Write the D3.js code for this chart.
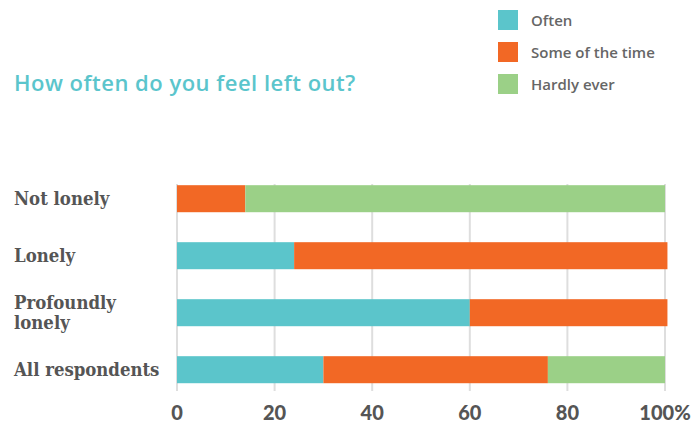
<!DOCTYPE html>
<html><head><meta charset="utf-8">
<script src="https://cdn.jsdelivr.net/npm/d3@7"></script>
<style>body{margin:0;background:#fff}svg{display:block}</style>
</head><body>
<svg id="c" width="693" height="428"></svg>
<script>
const categories = ["Not lonely", "Lonely", "Profoundly lonely", "All respondents"];
const categoryLines = [["Not lonely"], ["Lonely"], ["Profoundly", "lonely"], ["All respondents"]];
const seriesNames = ["Often", "Some of the time", "Hardly ever"];
const often = [0, 24, 60, 30];
const someOfTheTime = [14, 76.5, 40.5, 46];
const hardlyEver = [86, 0, 0, 24];
const tickValues = [0, 20, 40, 60, 80, 100];
const tickLabels = ["0", "20", "40", "60", "80", "100%"];
const colors = ["#5bc5cb", "#f26825", "#9bd087"];
const title = "How often do you feel left out?";

const svg = d3.select("#c");
const x = d3.scaleLinear().domain([0, 100]).range([177, 665]);
const y = d3.scaleBand().domain(categories).range([170.2, 170.2 + 4 * 57]).paddingInner(0.526).paddingOuter(0.263);
const color = d3.scaleOrdinal().domain(seriesNames).range(colors);

// gridlines
svg.append("g").selectAll("line").data(tickValues).join("line")
  .attr("x1", d => x(d)).attr("x2", d => x(d))
  .attr("y1", 184).attr("y2", 391)
  .attr("stroke", "#dedede").attr("stroke-width", 2);

const rows = categories.map((c, i) => ({cat: c, "Often": often[i], "Some of the time": someOfTheTime[i], "Hardly ever": hardlyEver[i]}));
const stacked = d3.stack().keys(seriesNames)(rows);

svg.append("g").selectAll("g").data(stacked).join("g")
  .attr("fill", d => color(d.key))
  .selectAll("rect").data(d => d).join("rect")
  .attr("x", d => x(d[0])).attr("width", d => x(d[1]) - x(d[0]))
  .attr("y", d => y(d.data.cat)).attr("height", y.bandwidth());

// x axis labels
svg.append("g").selectAll("text").data(tickValues).join("text")
  .attr("x", d => x(d)).attr("y", 420)
  .attr("text-anchor", "middle")
  .attr("font-family", "Lato, sans-serif").attr("font-weight", 900)
  .attr("font-size", 20).attr("fill", "#555")
  .text((d, i) => tickLabels[i]);

// category labels
const cl = svg.append("g").selectAll("text").data(categories).join("text")
  .attr("x", 14)
  .attr("font-family", "'DejaVu Serif', serif").attr("font-weight", 700)
  .attr("font-stretch", "condensed")
  .attr("font-size", 18.4).attr("fill", "#555");
cl.each(function(d, i) {
  const lines = categoryLines[i];
  const cy = y(d) + y.bandwidth() / 2 + 6 - (lines.length - 1) * 10;
  d3.select(this).selectAll("tspan").data(lines).join("tspan")
    .attr("x", 14).attr("y", (l, j) => cy + j * 20).text(l => l);
});

// title
svg.append("text").attr("x", 14).attr("y", 91)
  .attr("font-family", "'Open Sans', sans-serif").attr("font-weight", 600)
  .attr("font-size", 22).attr("letter-spacing", 0.5)
  .attr("fill", "#5bc5cc").text(title);

// legend
const lg = svg.append("g").selectAll("g").data(seriesNames).join("g")
  .attr("transform", (d, i) => `translate(498,${10 + i * 32})`);
lg.append("rect").attr("width", 20).attr("height", 20).attr("fill", d => color(d));
lg.append("text").attr("x", 33).attr("y", 15.5)
  .attr("font-family", "'Open Sans', sans-serif").attr("font-weight", 600)
  .attr("font-size", 15).attr("fill", "#666").text(d => d);
</script>
</body></html>
